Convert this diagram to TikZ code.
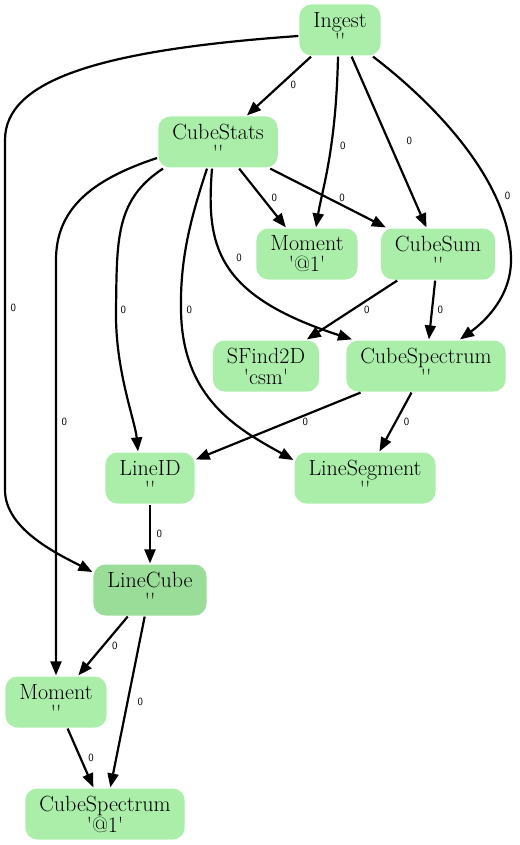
\documentclass[tikz,border=0pt]{standalone}
\usetikzlibrary{arrows.meta}
\newcommand{\qt}[1]{\textquotesingle#1\textquotesingle}
\definecolor{nodegreen}{HTML}{AAEEAA}
\definecolor{activegreen}{HTML}{99DD99}
\begin{document}
\begin{tikzpicture}[x=1pt,y=-1pt,line width=2.2pt,>={Triangle[length=14pt,width=11pt]},
  task/.style={fill=nodegreen,rounded corners=12pt,minimum height=51pt,inner xsep=14pt,inner ysep=1pt,align=center,font=\fontsize{22}{21}\selectfont},
  lbl/.style={font=\fontsize{11}{11}\selectfont\sffamily,inner sep=0pt}]
\useasboundingbox (0,0) rectangle (519,845);
\node[task] (ingest) at (340,30) {Ingest\\\qt{}};
\node[task] (cubestats) at (218,142) {CubeStats\\\qt{}};
\node[task] (moment1) at (307,254) {Moment\\\qt{@1}};
\node[task] (cubesum) at (438,254) {CubeSum\\\qt{}};
\node[task] (sfind) at (266,366) {SFind2D\\\qt{csm}};
\node[task] (cubespec) at (426,366) {CubeSpectrum\\\qt{}};
\node[task] (lineid) at (150,478) {LineID\\\qt{}};
\node[task] (lineseg) at (365,478) {LineSegment\\\qt{}};
\node[task,fill=activegreen] (linecube) at (150,590) {LineCube\\\qt{}};
\node[task] (moment) at (56,702) {Moment\\\qt{}};
\node[task] (cubespec1) at (105,814) {CubeSpectrum\\\qt{@1}};
\draw [->] (ingest) -- node[lbl,pos=.475,right=9pt]{0} (cubestats);
\draw [->] ([xshift=-2pt]ingest.south) .. controls (336,150) and (322,190) .. node[lbl,pos=.4,right=8pt]{0} ([xshift=9pt]moment1.north);
\draw [->] (ingest) -- node[lbl,pos=.494,right=17pt]{0} (cubesum);
\draw [->] ([xshift=33pt]ingest.south) .. controls (430,100) and (511,180) .. (511,260) node[lbl,pos=.73,right=8.5pt]{0} .. controls (511,300) and (480,325) .. ([xshift=34pt]cubespec.north);
\draw [->] ([yshift=-6pt]ingest.west) .. controls (100,50) and (5,80) .. (5,140) -- (5,490) node[lbl,pos=.48,right=4.5pt]{0} .. controls (5,530) and (60,555) .. ([yshift=18pt]linecube.west);
\draw [->] (cubestats) -- node[lbl,pos=.49,right=8.5pt]{0} (moment1);
\draw [->] (cubestats) -- node[lbl,pos=.49,right=11.5pt]{0} (cubesum);
\draw [->] ([xshift=-6pt]cubestats.south) .. controls (206,245) and (215,295) .. node[lbl,pos=.45,right=12pt]{0} ([xshift=-74pt]cubespec.north);
\draw [->] ([xshift=-55pt]cubestats.south) .. controls (115,200) and (117,240) .. (116,310) node[lbl,right=3.5pt]{0} .. controls (115,370) and (135,420) .. ([xshift=-12pt]lineid.north);
\draw [->] ([xshift=-11pt]cubestats.south) .. controls (190,220) and (180,260) .. (181,310) node[lbl,right=4.5pt]{0} .. controls (182,400) and (240,430) .. ([yshift=18pt]lineseg.west);
\draw [->] ([yshift=-16pt]cubestats.west) .. controls (90,180) and (56,210) .. (56,260) -- node[lbl,pos=.39,right=4.5pt]{0} (moment.north);
\draw [->] (cubesum) -- node[lbl,pos=.49,right=10pt]{0} (sfind);
\draw [->] (cubesum) -- node[lbl,pos=.49,right=4.5pt]{0} (cubespec);
\draw [->] (cubespec) -- node[lbl,pos=.44,right=13.5pt]{0} (lineid);
\draw [->] (cubespec) -- node[lbl,pos=.49,right=7pt]{0} (lineseg);
\draw [->] (lineid) -- node[lbl,pos=.49,right=5.5pt]{0} (linecube);
\draw [->] (linecube) -- node[lbl,pos=.49,right=7.5pt]{0} (moment);
\draw [->] (linecube) -- node[lbl,pos=.5,right=9pt]{0} (cubespec1);
\draw [->] (moment) -- node[lbl,pos=.49,right=7pt]{0} (cubespec1);
\end{tikzpicture}
\end{document}
